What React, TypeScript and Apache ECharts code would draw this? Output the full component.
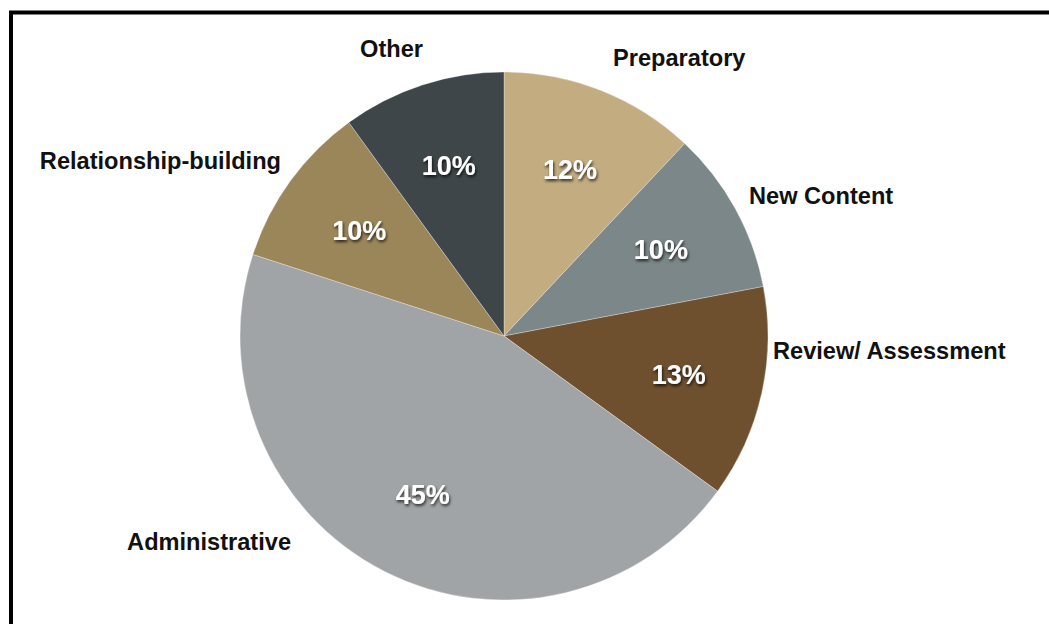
import React, { useEffect, useRef } from "react";
import * as echarts from "echarts";

const categories = [
  "Preparatory",
  "New Content",
  "Review/ Assessment",
  "Administrative",
  "Relationship-building",
  "Other",
];
const values = [12, 10, 13, 45, 10, 10];
const colors = ["#c3ac7f", "#7b8788", "#6e4f2e", "#a1a4a6", "#9b8659", "#3e4649"];

// label anchor placement (style constants, not data)
const labelAnchors: { x: number; y: number; align: "left" | "right" }[] = [
  { x: 613, y: 58, align: "left" },
  { x: 749, y: 196, align: "left" },
  { x: 773, y: 351, align: "left" },
  { x: 291, y: 542, align: "right" },
  { x: 281, y: 161, align: "right" },
  { x: 423, y: 49, align: "right" },
];

export default function App() {
  const ref = useRef<HTMLDivElement>(null);
  useEffect(() => {
    if (!ref.current) return;
    const chart = echarts.init(ref.current, undefined, { renderer: "svg" });
    const data = categories.map((name, i) => ({
      name,
      value: values[i],
      itemStyle: { color: colors[i] },
    }));
    const font = "'Liberation Sans', Arial, Helvetica, sans-serif";
    chart.setOption({
      animation: false,
      backgroundColor: "#ffffff",
      graphic: [
        {
          type: "rect",
          shape: { x: 11, y: 12.5, width: 1200, height: 800 },
          style: { fill: "none", stroke: "#000", lineWidth: 4 },
          silent: true,
        },
      ],
      series: [
        {
          type: "pie",
          center: [504, 336],
          radius: [0, 264],
          startAngle: 90,
          clockwise: true,
          silent: true,
          avoidLabelOverlap: false,
          itemStyle: { borderColor: "rgba(255,255,255,0.3)", borderWidth: 1 },
          label: {
            show: true,
            position: "outside",
            formatter: "{b}",
            color: "#111",
            fontFamily: font,
            fontWeight: "bold",
            fontSize: 23.6,
          },
          labelLine: { show: false },
          labelLayout: (params: any) => {
            const a = labelAnchors[params.dataIndex];
            return { x: a.x, y: a.y, align: a.align, verticalAlign: "middle" };
          },
          data,
        },
        {
          type: "pie",
          center: [504, 336],
          radius: [0, 352],
          startAngle: 90,
          clockwise: true,
          silent: true,
          itemStyle: { color: "rgba(0,0,0,0)", borderWidth: 0 },
          label: {
            show: true,
            position: "inside",
            formatter: "{c}%",
            color: "#ffffff",
            fontFamily: font,
            fontWeight: "bold",
            fontSize: 27,
            textShadowColor: "rgba(0,0,0,0.75)",
            textShadowBlur: 3,
            textShadowOffsetX: 1,
            textShadowOffsetY: 2,
          },
          labelLine: { show: false },
          data: categories.map((name, i) => ({ name, value: values[i] })),
        },
      ],
    });
    return () => chart.dispose();
  }, []);
  return (
    <div
      ref={ref}
      style={{ position: "fixed", left: 0, top: 0, width: 1049, height: 624 }}
    />
  );
}
